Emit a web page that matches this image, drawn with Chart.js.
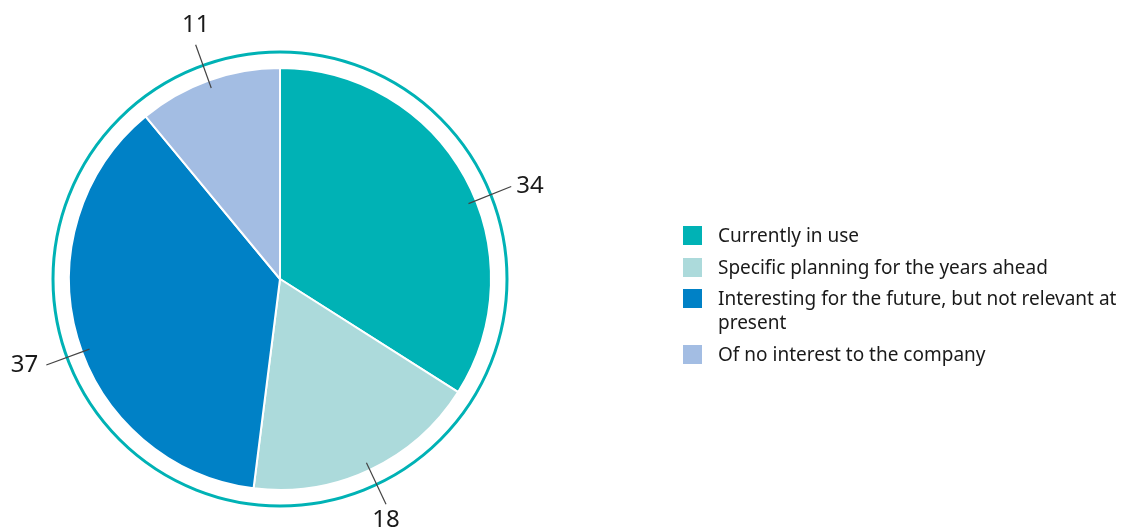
<!DOCTYPE html>
<html>
<head>
<meta charset="utf-8">
<script src="https://cdn.jsdelivr.net/npm/chart.js@4"></script>
<style>
  html, body { margin: 0; padding: 0; background: #fff; }
  #wrap { position: relative; width: 1131px; height: 531px; }
  #legend {
    position: absolute; left: 683px; top: 223px;
    font-family: "Noto Sans", sans-serif; font-size: 19px; color: #1a1a1a;
  }
  .item { display: flex; align-items: flex-start; line-height: 24px; margin-bottom: 7.5px; }
  .swatch { width: 19px; height: 19px; flex: none; margin-top: 3px; margin-right: 16px; }
  .label { width: 412px; }
</style>
</head>
<body>
<div id="wrap">
  <canvas id="pieChart" width="1131" height="531"></canvas>
  <div id="legend"></div>
</div>
<script>
const categories = [
  'Currently in use',
  'Specific planning for the years ahead',
  'Interesting for the future, but not relevant at present',
  'Of no interest to the company',
];
const shares = [34, 18, 37, 11];
const sliceColors = ['#00b2b5', '#acdadb', '#0081c6', '#a3bde3'];

// outer ring plus value labels with short leader lines
const sliceLabels = {
  id: 'sliceLabels',
  beforeDatasetsDraw(chart, args, opts) {
    const arc = chart.getDatasetMeta(0).data[0];
    if (!arc) return;
    const ctx = chart.ctx;
    ctx.save();
    ctx.beginPath();
    ctx.arc(arc.x, arc.y, arc.outerRadius + opts.ringGap, 0, Math.PI * 2);
    ctx.strokeStyle = opts.ringColor;
    ctx.lineWidth = 3;
    ctx.stroke();
    ctx.restore();
  },
  afterDatasetsDraw(chart, args, opts) {
    const meta = chart.getDatasetMeta(0);
    const values = chart.data.datasets[0].data;
    const ctx = chart.ctx;
    ctx.save();
    ctx.font = '24px "Noto Sans", sans-serif';
    ctx.fillStyle = '#1a1a1a';
    meta.data.forEach((arc, i) => {
      const { x, y, startAngle, endAngle, outerRadius } = arc.getProps(
        ['x', 'y', 'startAngle', 'endAngle', 'outerRadius'], true);
      const a = (startAngle + endAngle) / 2 + (opts.nudge[i] || 0) * Math.PI / 180;
      const cos = Math.cos(a), sin = Math.sin(a);
      const r1 = outerRadius - 8, r2 = outerRadius + 38;
      const ex = x + cos * r2, ey = y + sin * r2;
      ctx.beginPath();
      ctx.moveTo(x + cos * r1, y + sin * r1);
      ctx.lineTo(ex, ey);
      ctx.strokeStyle = '#444';
      ctx.lineWidth = 1.2;
      ctx.stroke();

      let tx = ex, ty = ey;
      if (Math.abs(cos) > 0.7) {
        ctx.textAlign = cos > 0 ? 'left' : 'right';
        ctx.textBaseline = 'middle';
        tx += cos > 0 ? 5 : -8;
      } else {
        ctx.textAlign = 'center';
        ctx.textBaseline = sin > 0 ? 'top' : 'bottom';
        ty += sin > 0 ? 4 : -8;
      }
      ctx.fillText(String(values[i]), tx, ty);
    });
    ctx.restore();
  },
};

new Chart(document.getElementById('pieChart'), {
  type: 'pie',
  data: {
    labels: categories,
    datasets: [{
      data: shares,
      backgroundColor: sliceColors,
      borderColor: '#fff',
      borderWidth: 2,
    }],
  },
  options: {
    responsive: false,
    animation: false,
    layout: { padding: { left: 68, right: 639, top: 67, bottom: 40 } },
    plugins: {
      legend: { display: false },
      tooltip: { enabled: false },
      sliceLabels: { ringGap: 16, ringColor: '#00b2b5', nudge: [7, 0, -4, 0] },
    },
  },
  plugins: [sliceLabels],
});

const legend = document.getElementById('legend');
categories.forEach((name, i) => {
  const item = document.createElement('div');
  item.className = 'item';
  item.innerHTML = '<span class="swatch" style="background:' + sliceColors[i] + '"></span>' +
    '<span class="label">' + name + '</span>';
  legend.appendChild(item);
});
</script>
</body>
</html>
